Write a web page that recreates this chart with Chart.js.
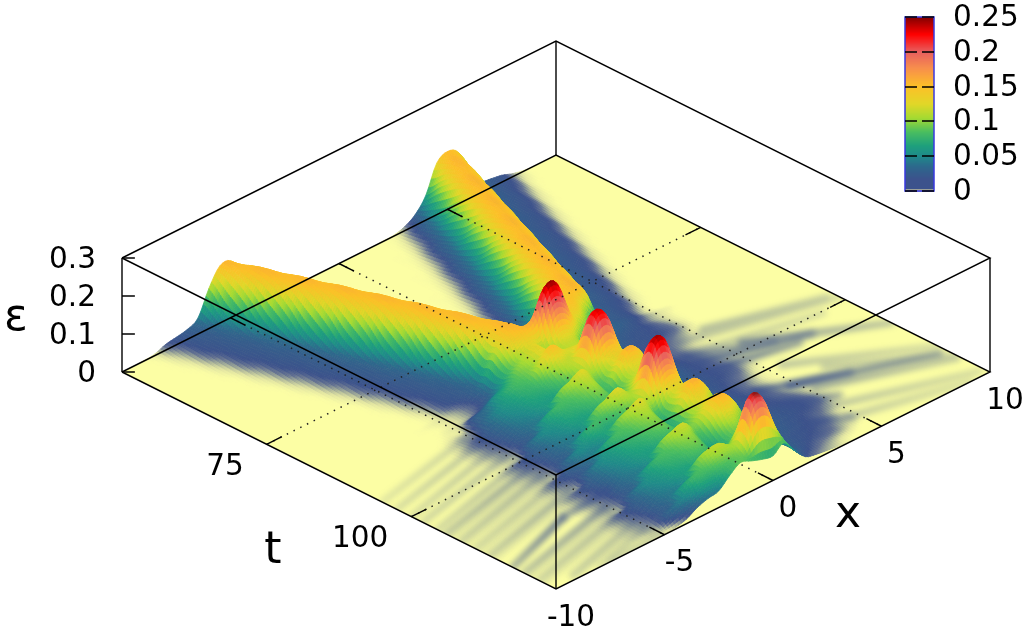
<!DOCTYPE html>
<html><head><meta charset="utf-8">
<style>html,body{margin:0;padding:0;background:#fff}canvas{display:block}</style>
<script src="https://cdn.jsdelivr.net/npm/chart.js@4/dist/chart.umd.js"></script>
</head><body><canvas id="c" width="1031" height="637"></canvas>
<script>
// ---------- axis labels ----------
const zTicks=[0,0.1,0.2,0.3];
const tTicks=[75,100];
const xTicks=[-10,-5,0,5,10];
const cbTicks=[0,0.05,0.1,0.15,0.2,0.25];
// ---------- surface samples: eps in thousandths ----------
const xCols=[-10,-9.5,-9,-8.5,-8,-7.5,-7,-6.5,-6,-5.5,-5,-4.5,-4,-3.5,-3,-2.5,-2,-1.5,-1,-0.5,0,0.5,1,1.5,2,2.5,3,3.5,4,4.5,5,5.5,6,6.5,7,7.5,8,8.5,9,9.5,10];
const tApproach=[50,52.5,55,57.5,60,62.5,65,67.5,70,72.5,75,77.5,80,82.5,85];
const tBreather=[86.25,87.5,88.75,90,91.25,92.5,93.75,95,96.25,97.5,98.75,100,101.25,102.5,103.75,105,106.25,107.5,108.75,110,111.25,112.5,113.75,115,116.25,117.5,118.75,120,121.25,122.5,123.75,125];
// full rows, x=-10..10
const epsApproach=[
[0,0,1,4,15,20,26,42,105,150,150,105,42,20,5,1,0,0,0,0,0,0,0,0,1,2,10,28,65,135,152,135,65,30,23,18,8,2,0,0,0],
[0,0,0,2,8,18,23,30,65,135,152,135,65,28,10,2,1,0,0,0,0,0,0,0,1,5,20,42,105,150,150,105,42,26,20,15,4,1,0,0,0],
[0,0,0,1,4,15,20,26,42,105,150,150,105,42,20,5,1,0,0,0,0,0,0,1,2,10,28,65,135,152,135,65,30,23,18,8,2,0,0,0,0],
[0,0,0,0,2,8,18,23,30,65,135,152,135,65,28,10,2,1,0,0,0,0,0,1,5,20,42,105,150,150,105,42,26,20,15,4,1,0,0,0,0],
[0,0,0,0,1,4,15,20,26,42,105,150,150,105,42,20,5,1,0,0,0,0,1,2,10,28,65,135,152,135,65,30,23,18,8,2,0,0,0,0,0],
[0,0,0,0,0,2,8,18,23,30,65,135,152,135,65,28,10,2,1,0,0,0,1,5,20,42,105,150,150,105,42,26,20,15,4,1,0,0,0,0,0],
[0,0,0,0,0,1,4,15,20,26,42,105,150,150,105,42,20,5,1,0,0,1,2,10,28,65,135,152,135,65,30,23,18,8,2,0,0,0,0,0,0],
[0,0,0,0,0,0,2,8,18,23,30,65,135,152,135,65,28,10,2,1,0,1,5,20,42,105,150,150,105,42,26,20,15,4,1,0,0,0,0,0,0],
[0,0,0,0,0,0,1,4,15,20,26,42,105,150,150,105,42,20,5,1,1,2,10,28,65,135,152,135,65,30,23,18,8,2,0,0,0,0,0,0,0],
[0,0,0,0,0,0,0,2,8,18,23,30,65,135,152,135,65,28,10,2,2,5,20,42,105,150,150,105,42,26,20,15,4,1,0,0,0,0,0,0,0],
[0,0,0,0,0,0,0,1,4,15,20,26,42,105,150,150,105,42,20,6,3,10,28,65,135,152,135,65,30,23,18,8,2,0,0,0,0,0,0,0,0],
[0,0,0,0,0,0,0,0,2,8,18,23,30,65,135,152,135,65,28,11,7,21,42,105,150,150,105,42,26,20,15,4,1,0,0,0,0,0,0,0,0],
[0,0,0,0,0,0,0,0,1,4,15,20,26,42,105,150,150,105,43,22,15,29,65,135,152,135,65,30,23,18,8,2,0,0,0,0,0,0,0,0,0],
[0,0,0,0,0,0,0,0,0,2,8,18,23,30,65,135,152,135,66,33,30,44,106,150,150,105,42,26,20,15,4,1,0,0,0,0,0,0,0,0,0],
[0,0,0,0,0,0,0,0,0,1,4,15,20,26,42,105,150,151,107,52,48,70,136,152,135,65,30,23,18,8,2,0,0,0,0,0,0,0,0,0,0]
];
// rows after the collision, x=-6..5.5 (outside that range the surface is flat)
const firstBreatherCol=8;
const epsBreather=[
[1,2,4,8,14,24,45,110,145,155,130,165,170,130,150,120,70,42,30,24,18,9,4,2],
[0,1,3,6,12,20,40,95,135,150,175,240,235,150,130,85,45,32,26,21,15,8,4,1],
[0,2,4,8,15,30,50,85,110,130,120,195,190,130,85,60,38,27,22,19,16,10,4,1],
[1,3,5,25,35,55,68,95,110,130,100,135,130,85,60,42,30,24,20,18,16,12,5,1],
[2,6,10,30,42,65,80,90,105,130,105,115,110,75,50,36,27,22,19,18,16,12,5,1],
[3,9,14,35,50,62,76,84,118,150,125,120,115,80,50,34,26,20,17,15,12,8,3,0],
[5,12,20,33,48,57,70,76,92,120,115,145,140,95,55,36,26,20,16,13,9,5,2,0],
[4,11,18,31,44,52,64,68,80,105,125,215,210,130,65,38,27,20,15,12,7,3,1,0],
[4,9,15,28,40,47,58,63,73,95,125,215,215,130,65,40,28,21,16,12,7,3,1,0],
[3,8,13,25,36,43,53,95,110,125,105,140,150,110,65,42,30,22,17,13,8,3,1,0],
[2,6,10,23,33,65,80,85,99,115,85,115,140,125,80,50,32,23,18,14,9,4,1,0],
[2,5,9,35,50,58,72,78,90,105,80,125,160,140,85,50,32,23,18,15,10,5,2,0],
[5,12,20,32,45,53,66,70,81,95,75,105,130,110,65,40,28,22,18,15,11,6,2,0],
[4,10,16,29,41,48,59,65,75,88,85,110,120,85,52,36,27,22,18,16,13,7,2,0],
[3,8,13,26,37,44,54,95,110,125,100,140,145,90,52,36,27,21,18,16,13,6,2,0],
[3,7,11,24,34,65,80,81,94,110,115,210,205,125,60,38,27,21,17,14,10,4,1,0],
[2,6,9,35,50,55,68,67,77,95,125,230,230,135,62,38,27,20,16,13,8,3,1,0],
[5,12,20,30,43,46,56,95,110,125,110,170,170,105,58,38,27,20,16,12,7,3,1,0],
[3,9,14,25,35,65,80,88,102,112,80,115,130,105,65,42,29,21,16,13,8,3,1,0],
[2,6,10,35,50,60,74,82,95,102,70,115,145,130,80,48,31,22,17,14,9,4,1,0],
[5,12,20,33,47,56,69,76,88,95,70,125,160,135,80,46,30,22,18,15,11,5,2,0],
[4,10,17,30,43,52,64,70,81,88,75,110,135,105,62,38,27,22,18,16,13,8,3,0],
[4,9,15,28,40,48,59,65,75,80,88,110,125,90,58,38,27,22,19,17,15,10,4,1],
[3,8,13,26,37,44,54,95,110,118,95,125,150,125,75,44,29,23,20,18,16,12,5,1],
[3,7,11,24,34,65,80,87,101,105,80,120,155,130,75,44,29,23,20,18,16,12,5,1],
[2,6,9,35,50,60,74,80,92,95,68,100,125,95,58,38,27,22,19,16,14,8,2,0],
[5,12,20,32,46,55,67,72,84,85,60,85,100,72,46,32,25,21,18,15,11,5,1,0],
[4,10,17,29,42,49,61,65,75,75,70,90,100,68,42,28,22,19,17,15,10,4,1,0],
[3,8,14,27,38,44,54,95,110,112,95,140,140,85,48,28,21,18,16,13,8,3,0,0],
[3,7,12,24,34,65,80,87,101,105,115,210,205,120,55,28,20,16,14,11,6,2,0,0],
[2,6,9,28,42,50,68,70,80,88,105,180,180,110,55,26,17,12,8,4,2,0,0,0],
[0,0,2,5,12,28,38,44,70,90,80,70,65,85,50,20,12,8,5,2,0,0,0,0]
];
// radiation streaks on the floor: x start, t start, x end, t end, strength 0..1
const streakXStart=[-5,-5,-5,-5,-5,-5,-5,-5,-5,-4.2,-6.5,-5,-5,-5,-5,-5, 4.1,5.3,3.6,5.6,4.7,5.2,5.5,6.4,4.6,4.6, 3.6,3.6,3.6,3.6,3.8,3.5, -5,-5,-5,-5,-5,-5,-5];
const streakTStart=[91,93.3,95.5,97.7,100,101.8,104,106.5,109,112.3,113.2,115,117.5,120,122,124.5, 93,92.7,95.6,98.4,110,112.5,105.7,109.7,116.9,120.4, 98,100.5,96,108,113,118, 102.9,105.2,107.7,110.2,116.3,118.7,121];
const streakXEnd=[-10,-10,-10,-10,-10,-10,-10,-10,-10,-6.5,-10,-10,-10,-9,-8,-7.5, 10,9.7,8.9,10,9.7,9.9,10,10,9.8,9.1, 7.7,7,6.5,6.8,5.5,4.8, -10,-10,-10,-10,-10,-10,-9];
const streakTEnd=[95,97.5,100,102,104.5,106,108.5,111,113.5,113.2,117.5,119.5,122,124,125,125, 99,97.9,100.4,108,117.5,119.8,116,119,124,125, 103,103.5,101,113,116,121, 107,109.4,112,114.5,120.5,123,124.5];
const streakLevel=[.3,.4,.4,.45,.45,.65,.55,.45,.6,1,.95,.7,.5,.45,.4,.4, .4,.45,.4,.7,.95,.55,.4,.35,.4,.35, 1,1,.8,1,.9,.8, .2,.2,.2,.2,.2,.2,.2];

// ---------- projection of the 3-D box to the chart's two hidden linear scales ----------
const ORG=[122,372],SPAN=434,DROP=217,ZK=0.38;
function proj(x,t,e){const u=(t-50)/75,v=(x+10)/20;return {x:ORG[0]+SPAN*(u+v),y:ORG[1]+DROP*(u-v)-e*ZK};}

// ---------- palette ----------
const palStops=[[0,252,254,164],[1,251,253,165],[4,225,228,162],[8,160,170,152],[12,100,114,146],[17,60,82,140],[35,45,105,140],[50,31,138,138],[65,30,160,125],[85,75,190,95],[105,165,218,50],[125,225,215,40],[150,252,192,40],[175,248,145,75],[200,232,95,95],[225,255,0,0],[250,128,0,0]];
function pal(e){
  if(e<=0)e=0; if(e>=250)e=250;
  for(let i=1;i<palStops.length;i++){const a=palStops[i-1],b=palStops[i];
    if(e<=b[0]){const f=(e-a[0])/(b[0]-a[0]);
      return `rgb(${Math.round(a[1]+f*(b[1]-a[1]))},${Math.round(a[2]+f*(b[2]-a[2]))},${Math.round(a[3]+f*(b[3]-a[3]))})`;}}
  return 'rgb(128,0,0)';
}

// ---------- assemble tables ----------
const tRows=tApproach.concat(tBreather);
const epsRows=epsApproach.concat(epsBreather.map(r=>{
  const o=new Array(xCols.length).fill(0);
  r.forEach((v,i)=>o[firstBreatherCol+i]=v);return o;}));

function cr(a,b,c,d,f){return 0.5*((2*b)+(-a+c)*f+(2*a-5*b+4*c-d)*f*f+(-a+3*b-3*c+d)*f*f*f);}
function meshRows(){ // drawing mesh (smooth shading of the cells)
  const R=tRows.length,C=xCols.length,out=[];
  for(let i=0;i<R-1;i++){
    const sub=(tRows[i+1]-tRows[i])>2?8:5;
    const last=i===R-2?sub:sub-1;
    for(let s=0;s<=last;s++){
      const f=s/sub,t=tRows[i]+f*(tRows[i+1]-tRows[i]);
      const r0=epsRows[Math.max(i-1,0)],r1=epsRows[i],r2=epsRows[i+1],r3=epsRows[Math.min(i+2,R-1)];
      const line=[];
      for(let c=0;c<C;c++)line.push(Math.max(0,cr(r0[c],r1[c],r2[c],r3[c],f)));
      const fine=[],fx=[];
      for(let c=0;c<C-1;c++)for(let q=0;q<4;q++){
        const g=q/4;
        fine.push(Math.max(0,cr(line[Math.max(c-1,0)],line[c],line[c+1],line[Math.min(c+2,C-1)],g)));
        fx.push(xCols[c]+g*(xCols[c+1]-xCols[c]));
      }
      fine.push(line[C-1]);fx.push(xCols[C-1]);
      out.push({t,fine,fx});
    }
  }
  return out;
}

const surfacePlugin={id:'surface',
  beforeDatasetDraw(chart,args){
    const ds=chart.data.datasets[args.index];
    const ctx=chart.ctx;
    if(ds.isStreak){
      ctx.save();
      const X=chart.scales.x,Y=chart.scales.y;
      const c=[proj(-10,50,0),proj(-10,125,0),proj(10,125,0),proj(10,50,0)];
      ctx.beginPath();c.forEach((p,i)=>i?ctx.lineTo(X.getPixelForValue(p.x),Y.getPixelForValue(p.y)):ctx.moveTo(X.getPixelForValue(p.x),Y.getPixelForValue(p.y)));
      ctx.closePath();ctx.clip();
      ctx.filter='blur(3px)';
      ctx.globalCompositeOperation='darken';
    }
    if(ds.isSurface){
      const X=chart.scales.x,Y=chart.scales.y,M=meshRows();
      ctx.save();ctx.lineWidth=0.8;ctx.lineJoin='round';
      const P=(x,t,e)=>{const p=proj(x,t,e);return [X.getPixelForValue(p.x),Y.getPixelForValue(p.y)];};
      for(let i=0;i<M.length-1;i++){
        const a=M[i],b=M[i+1];
        for(let c=a.fine.length-2;c>=0;c--){
          const e=(a.fine[c]+a.fine[c+1]+b.fine[c]+b.fine[c+1])/4;
          if(e<0.6)continue;
          const col=pal(e);
          const p1=P(a.fx[c],a.t,a.fine[c]),p2=P(a.fx[c+1],a.t,a.fine[c+1]),p3=P(b.fx[c+1],b.t,b.fine[c+1]),p4=P(b.fx[c],b.t,b.fine[c]);
          ctx.fillStyle=col;ctx.strokeStyle=col;
          ctx.beginPath();ctx.moveTo(p1[0],p1[1]);ctx.lineTo(p2[0],p2[1]);ctx.lineTo(p3[0],p3[1]);ctx.lineTo(p4[0],p4[1]);ctx.closePath();
          ctx.fill();ctx.stroke();
        }
      }
      ctx.restore();
    }
  },
  afterDatasetDraw(chart,args){
    if(chart.data.datasets[args.index].isStreak)chart.ctx.restore();
  },
  afterDatasetsDraw(chart){
    const ctx=chart.ctx,X=chart.scales.x,Y=chart.scales.y;
    const F='"DejaVu Sans"';
    ctx.save();ctx.fillStyle='#000';ctx.textBaseline='middle';
    ctx.font='29.5px '+F;
    // z labels
    ctx.textAlign='right';
    zTicks.forEach(z=>{const p=proj(-10,50,z*1000);ctx.fillText(String(z),X.getPixelForValue(p.x)-26,Y.getPixelForValue(p.y)+2);});
    // t labels
    tTicks.forEach(t=>{const p=proj(-10,t,0);ctx.fillText(String(t),X.getPixelForValue(p.x)-23,Y.getPixelForValue(p.y)+23);});
    // x labels
    ctx.textAlign='center';
    xTicks.forEach(x=>{const p=proj(x,125,0);ctx.fillText(String(x),X.getPixelForValue(p.x)+15,Y.getPixelForValue(p.y)+29);});
    // axis titles
    ctx.font='44px '+F;
    ctx.fillText('ε',16,319);
    ctx.fillText('t',273,552);
    ctx.fillText('x',848,516);
    // colour box
    const bx=905,bw=29,by0=191,bh=174;
    for(let y=0;y<bh;y++){const e=250*y/bh;ctx.fillStyle=pal(Math.max(e,17));ctx.fillRect(bx,by0-y-1,bw,1.5);}
    ctx.fillStyle='#9a9f98';ctx.fillRect(bx,by0-2,bw,2);
    ctx.strokeStyle='#3a3ae0';ctx.lineWidth=1.5;ctx.strokeRect(bx,by0-bh,bw,bh);
    ctx.strokeStyle='#000';ctx.lineWidth=1.3;ctx.fillStyle='#000';ctx.textAlign='left';ctx.font='29.5px '+F;
    cbTicks.forEach(v=>{const y=Math.round(by0-bh*v/0.25);
      ctx.beginPath();ctx.moveTo(bx,y);ctx.lineTo(bx+12,y);ctx.moveTo(bx+bw-12,y);ctx.lineTo(bx+bw,y);ctx.stroke();
      ctx.fillText(String(v),953,y+1);});
    ctx.restore();
  }
};

// ---------- datasets ----------
const canvas=document.getElementById('c');
const gctx=canvas.getContext('2d');
const lineDs=(pts,o)=>Object.assign({data:pts,showLine:true,pointRadius:0,fill:false,borderColor:'#000',borderWidth:1.4,clip:false,order:1,tension:0},o||{});
const ds=[];
// floor
ds.push(lineDs([proj(-10,50,0),proj(-10,125,0),proj(10,125,0),proj(10,50,0),proj(-10,50,0)],{fill:'shape',backgroundColor:'#fcfea4',borderColor:'#fcfea4',borderWidth:0,order:6}));
// surface nodes
const nodes=[];tRows.forEach((t,i)=>xCols.forEach((x,j)=>nodes.push(proj(x,t,epsRows[i][j]))));
ds.push({data:nodes,showLine:false,pointRadius:0,order:5,isSurface:true,clip:false});
// streaks
streakLevel.forEach((lv,i)=>{
  const a=proj(streakXStart[i],streakTStart[i],0),b=proj(streakXEnd[i],streakTEnd[i],0);
  const g=gctx.createLinearGradient(a.x,a.y,b.x,b.y);
  g.addColorStop(0,`rgba(60,82,140,${lv})`);g.addColorStop(1,`rgba(60,82,140,${lv*0.55})`);
  ds.push(lineDs([a,b],{borderColor:g,borderWidth:6,order:4,isStreak:true,borderCapStyle:'round'}));
});
// grid
const dot={borderDash:[1.5,6],borderWidth:1.5,order:2,borderColor:'#222'};
tTicks.forEach(t=>ds.push(lineDs([proj(-10,t,0),proj(10,t,0)],dot)));
xTicks.slice(1,4).forEach(x=>ds.push(lineDs([proj(x,50,0),proj(x,125,0)],dot)));
// box
const corners=[[-10,50],[-10,125],[10,125],[10,50]];
[0,300].forEach(z=>ds.push(lineDs(corners.concat([corners[0]]).map(c=>proj(c[0],c[1],z)))));
corners.forEach(c=>ds.push(lineDs([proj(c[0],c[1],0),proj(c[0],c[1],300)])));
// ticks
tTicks.forEach(t=>{ds.push(lineDs([proj(-10,t,0),proj(-9.3,t,0)]));ds.push(lineDs([proj(10,t,0),proj(9.3,t,0)]));});
xTicks.slice(1,4).forEach(x=>{ds.push(lineDs([proj(x,125,0),proj(x,122.4,0)]));ds.push(lineDs([proj(x,50,0),proj(x,52.6,0)]));});
zTicks.forEach(z=>ds.push(lineDs([proj(-10,50,z*1000),proj(-9.7,51.1,z*1000)])));

new Chart(canvas,{type:'scatter',data:{datasets:ds},plugins:[surfacePlugin],options:{
  responsive:false,animation:false,events:[],
  layout:{padding:0},
  plugins:{legend:{display:false},tooltip:{enabled:false},title:{display:false}},
  scales:{x:{type:'linear',min:0,max:1031,display:false},y:{type:'linear',min:0,max:637,reverse:true,display:false}}
}});
</script></body></html>
